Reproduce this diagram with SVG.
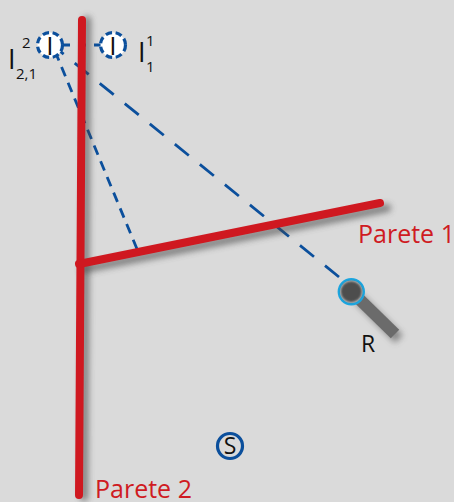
<svg xmlns="http://www.w3.org/2000/svg" width="454" height="502" viewBox="0 0 454 502">
<defs>
<filter id="shl" filterUnits="userSpaceOnUse" x="0" y="0" width="454" height="502"><feGaussianBlur stdDeviation="3"/></filter>
<filter id="soft" filterUnits="userSpaceOnUse" x="320" y="260" width="60" height="60"><feGaussianBlur stdDeviation="1.2"/></filter>
</defs>
<style>
.t{font-family:"Open Sans","Noto Sans",sans-serif;fill:#111}
.r{font-family:"Open Sans","Noto Sans",sans-serif;fill:#cf1b22;font-size:25px}
.wall{stroke:#cf1820;stroke-width:8;stroke-linecap:round;fill:none}
.wsh{stroke:#444;stroke-width:8;stroke-linecap:round;fill:none;opacity:.6;filter:url(#shl)}
.d{stroke:#0b4f9c;stroke-width:2.8;fill:none}
.img{fill:#fff;stroke:#0b4f9c;stroke-width:3.2;stroke-dasharray:6.5 3.7}
</style>
<rect width="454" height="502" fill="#dadada"/>
<g id="connectors">
<path class="d" d="M339 277L56 48" stroke-dasharray="18 14.2"/>
<path class="d" d="M137 249L57 56" stroke-dasharray="10 7"/>
<path class="d" d="M102 45H60" stroke-dasharray="8 8"/>
</g>
<g id="wall-shadows">
<path class="wsh" d="M87 20L84 497"/>
<path class="wsh" d="M84 269L387 208"/>
</g>
<g id="parete-2"><path class="wall" d="M82 20L79 495"/><text class="r" x="95" y="498">Parete 2</text></g>
<g id="parete-1"><path class="wall" d="M79 264L380 203"/><text class="r" x="358" y="243">Parete 1</text></g>
<g id="image-2">
<circle class="img" cx="50" cy="45" r="12.5"/>
<text class="t" x="50" y="55" font-size="26" text-anchor="middle">I</text>
<text class="t" x="22" y="48" font-size="15">2</text>
<text class="t" x="8" y="69" font-size="27">I</text>
<text class="t" x="16" y="79" font-size="15">2,1</text>
</g>
<g id="image-1">
<circle class="img" cx="113" cy="45" r="12.5"/>
<text class="t" x="113" y="55" font-size="26" text-anchor="middle">I</text>
<text class="t" x="138" y="62" font-size="27">I</text>
<text class="t" x="146" y="46" font-size="15">1</text>
<text class="t" x="146" y="72" font-size="15">1</text>
</g>
<g id="receiver">
<path d="M358 298L399 339" stroke="#444" stroke-width="11" opacity=".55" filter="url(#shl)"/>
<path d="M352 292L395 334" stroke="#6b6b6b" stroke-width="12"/>
<circle cx="351.3" cy="291.7" r="12.5" fill="#bdbdbd" stroke="#1ba6e0" stroke-width="2.4"/>
<circle cx="351.3" cy="291.7" r="10.5" fill="#4e4e4e" filter="url(#soft)"/>
<text class="t" x="361" y="352" font-size="23">R</text>
</g>
<g id="source">
<circle cx="230" cy="446" r="12.5" fill="none" stroke="#0b4f9c" stroke-width="3.2"/>
<text class="t" x="230" y="454" font-size="23" text-anchor="middle">S</text>
</g>
</svg>
